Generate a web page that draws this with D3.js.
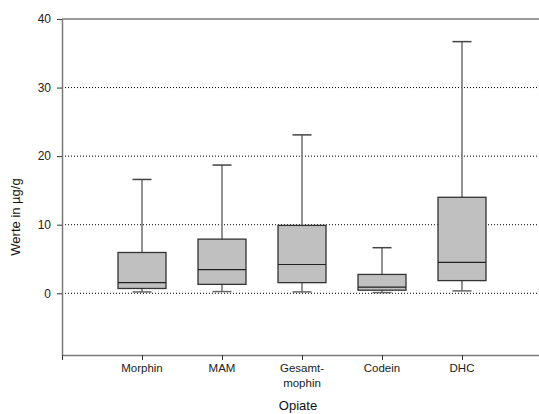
<!DOCTYPE html>
<html>
<head>
<meta charset="utf-8">
<script src="https://cdn.jsdelivr.net/npm/d3@7"></script>
<style>
  html, body { margin: 0; padding: 0; background: #fff; }
  svg { display: block; font-family: "Liberation Sans", Arial, sans-serif; }
</style>
</head>
<body>
<svg id="chart" width="539" height="414"></svg>
<script>
// Opiate concentrations (µg/g): whisker ends, quartiles and median per substance
const categories = ["Morphin", "MAM", "Gesamt-\nmophin", "Codein", "DHC"];
const whiskerLow = [0.2, 0.25, 0.2, 0.1, 0.35];
const q1 = [0.7, 1.3, 1.55, 0.45, 1.85];
const median = [1.55, 3.45, 4.2, 0.9, 4.5];
const q3 = [5.95, 7.9, 9.9, 2.75, 14.0];
const whiskerHigh = [16.6, 18.7, 23.1, 6.65, 36.7];
const yTicks = [0, 10, 20, 30, 40];
const yDomain = [-9, 40];

const svg = d3.select("#chart");
const plotLeft = 62, plotTop = 19, plotBottom = 355, plotRight = 542;

const x = d3.scaleLinear().domain([0, categories.length + 1]).range([plotLeft, plotRight]);
const y = d3.scaleLinear().domain(yDomain).range([plotBottom, plotTop]);

const axisColor = "#7a7a7a";

// dotted reference lines
svg.append("g").selectAll("line")
  .data(yTicks.filter(t => t < 40))
  .join("line")
  .attr("x1", plotLeft).attr("x2", plotRight)
  .attr("y1", d => y(d)).attr("y2", d => y(d))
  .attr("stroke", "#000").attr("stroke-width", 1)
  .attr("stroke-dasharray", "1,2");

// top frame line
svg.append("line")
  .attr("x1", plotLeft).attr("x2", plotRight)
  .attr("y1", y(40)).attr("y2", y(40))
  .attr("stroke", axisColor).attr("stroke-width", 1.5);

// y axis
const yAxis = svg.append("g")
  .attr("transform", `translate(${plotLeft},0)`)
  .call(d3.axisLeft(y).tickValues(yTicks).tickSize(5).tickPadding(6).tickSizeOuter(0));
yAxis.select(".domain").attr("stroke", axisColor).attr("stroke-width", 1.5);
yAxis.selectAll(".tick line").attr("stroke", "#333");
yAxis.selectAll(".tick text").attr("font-size", 12).attr("fill", "#222")
  .attr("font-family", "Liberation Sans, Arial, sans-serif");

// x axis
const xAxis = svg.append("g")
  .attr("transform", `translate(0,${plotBottom})`)
  .call(d3.axisBottom(x).tickValues([0, 1, 2, 3, 4, 5]).tickSize(5).tickSizeOuter(0).tickFormat(""));
xAxis.select(".domain").attr("stroke", axisColor).attr("stroke-width", 1.5);
xAxis.selectAll(".tick line").attr("stroke", "#333");

// category labels (multi-line where needed)
const labels = svg.append("g").selectAll("text")
  .data(categories)
  .join("text")
  .attr("x", (d, i) => x(i + 1))
  .attr("y", 372)
  .attr("text-anchor", "middle")
  .attr("font-size", 11.5)
  .attr("fill", "#222");
labels.each(function(d) {
  const parts = d.split("\n");
  const lx = d3.select(this).attr("x");
  d3.select(this).selectAll("tspan").data(parts).join("tspan")
    .attr("x", lx)
    .attr("dy", (p, j) => j === 0 ? 0 : 14.5)
    .text(p => p);
});

// boxes
const boxW = 48, capW = 19;
const boxes = svg.append("g").selectAll("g")
  .data(categories.map((c, i) => ({ c, i })))
  .join("g");

boxes.append("line")
  .attr("x1", d => x(d.i + 1)).attr("x2", d => x(d.i + 1))
  .attr("y1", d => y(whiskerHigh[d.i])).attr("y2", d => y(whiskerLow[d.i]))
  .attr("stroke", "#777").attr("stroke-width", 1.6);
boxes.append("line")
  .attr("x1", d => x(d.i + 1) - capW / 2).attr("x2", d => x(d.i + 1) + capW / 2)
  .attr("y1", d => y(whiskerHigh[d.i])).attr("y2", d => y(whiskerHigh[d.i]))
  .attr("stroke", "#444").attr("stroke-width", 1.5);
boxes.append("line")
  .attr("x1", d => x(d.i + 1) - capW / 2).attr("x2", d => x(d.i + 1) + capW / 2)
  .attr("y1", d => y(whiskerLow[d.i])).attr("y2", d => y(whiskerLow[d.i]))
  .attr("stroke", "#666").attr("stroke-width", 1.5);
boxes.append("rect")
  .attr("x", d => x(d.i + 1) - boxW / 2)
  .attr("width", boxW)
  .attr("y", d => y(q3[d.i]))
  .attr("height", d => y(q1[d.i]) - y(q3[d.i]))
  .attr("fill", "#c0c0c0")
  .attr("stroke", "#333").attr("stroke-width", 1.3);
boxes.append("line")
  .attr("x1", d => x(d.i + 1) - boxW / 2).attr("x2", d => x(d.i + 1) + boxW / 2)
  .attr("y1", d => y(median[d.i])).attr("y2", d => y(median[d.i]))
  .attr("stroke", "#222").attr("stroke-width", 1.2);

// axis titles
svg.append("text")
  .attr("transform", `translate(20,217) rotate(-90)`)
  .attr("text-anchor", "middle")
  .attr("font-size", 13).attr("fill", "#111")
  .text("Werte in µg/g");

svg.append("text")
  .attr("x", 298).attr("y", 410)
  .attr("text-anchor", "middle")
  .attr("font-size", 13).attr("fill", "#111")
  .text("Opiate");
</script>
</body>
</html>
